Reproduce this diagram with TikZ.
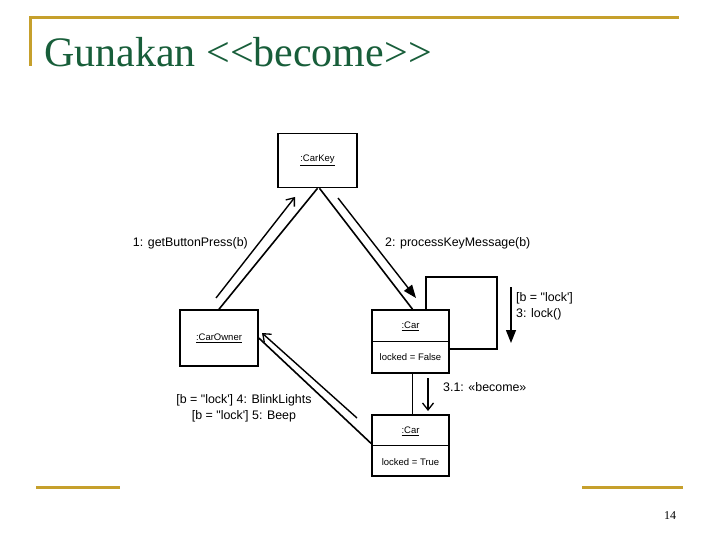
\documentclass[tikz,border=0pt]{standalone}
\usepackage{fontspec}
\setmainfont{Liberation Serif}
\newfontfamily\diagfont{Liberation Sans}
\usetikzlibrary{arrows.meta}
\definecolor{gold}{RGB}{198,160,44}
\definecolor{titlegreen}{RGB}{24,94,58}
\tikzset{
  objbox/.style={draw, line width=1.6pt, inner sep=0pt, font=\diagfont\fontsize{9.5}{11}\selectfont},
  link/.style={line width=1.6pt},
  msgopen/.style={line width=1.4pt, -{Straight Barb[length=7pt,width=11pt,line width=1.3pt]}},
  msgfill/.style={line width=1.4pt, -{Triangle[length=13pt,width=10pt]}},
  msglabel/.style={font=\diagfont\fontsize{12.4}{16}\selectfont, inner sep=0pt},
  small/.style={font=\diagfont\fontsize{9.5}{11}\selectfont, inner sep=0pt},
  goldline/.style={gold, line width=3pt}
}
\begin{document}
\begin{tikzpicture}[x=1pt,y=-1pt]
\useasboundingbox (0,0) rectangle (720,540);
% slide frame
\draw[goldline] (30,18) -- (679,18);
\draw[goldline] (30,16.5) -- (30,66);
\draw[goldline] (36,487) -- (120,487);
\draw[goldline] (582,487) -- (683,487);
\node[anchor=base west, text=titlegreen, font=\fontsize{42}{46}\selectfont, inner sep=0pt] (title) at (44,67) {Gunakan {<}{<}become{>}{>}};
\node[font=\fontsize{12}{14}\selectfont, inner sep=0pt] (pnum) at (670,516) {14};
% objects
\node[objbox, minimum width=79pt, minimum height=54pt] (carkey) at (317.5,160.5) {\underline{:CarKey}};
\node[objbox, minimum width=78pt, minimum height=56pt] (carowner) at (219,338) {\underline{:CarOwner}};
\node[objbox, minimum width=77pt, minimum height=63pt] (car1) at (410.5,341.5) {};
\node[objbox, minimum width=77pt, minimum height=61pt] (car2) at (410.5,445.5) {};
\draw[link] (car1.west) -- (car1.east);
\draw[link] (car2.west) -- (car2.east);
\node[small] (car1name) at (410.5,326) {\underline{:Car}};
\node[small] (car1attr) at (410.5,357) {locked = False};
\node[small] (car2name) at (410.5,431) {\underline{:Car}};
\node[small] (car2attr) at (410.5,462) {locked = True};
% links
\draw[link] (carkey.south) -- (carowner.north);
\draw[link] ([xshift=2pt]carkey.south) -- ([xshift=2pt]car1.north);
\draw[link] ([xshift=2pt]car1.south) -- ([xshift=2pt]car2.north);
\draw[link] (carowner.east) -- ([yshift=2pt]car2.west);
\coordinate (loopc) at (497,277);
\draw[link] ([xshift=15.5pt]car1.north) |- (loopc) |- ([yshift=-7.5pt]car1.east);
% messages
\coordinate (m1s) at (216,298);
\coordinate (m1e) at (295,197);
\draw[msgopen] (m1s) -- (m1e);
\node[msglabel, anchor=east] (m1l) at (248,243) {1: getButtonPress(b)};
\coordinate (m2s) at (338,198);
\coordinate (m2e) at (416,298);
\draw[msgfill] (m2s) -- (m2e);
\node[msglabel, anchor=west] (m2l) at (385,243) {2: processKeyMessage(b)};
\coordinate (m3s) at (511,287);
\coordinate (m3e) at (511,343);
\draw[msgfill] (m3s) -- (m3e);
\node[msglabel, anchor=north west, align=left] (m3l) at (516,292) {[b = "lock']\\3: lock()};
\coordinate (m31s) at (428,378);
\coordinate (m31e) at (428,411);
\draw[msgopen] (m31s) -- (m31e);
\node[msglabel, anchor=west] (m31l) at (443,387) {3.1: «become»};
\coordinate (m4s) at (357,418);
\coordinate (m4e) at (262,333);
\draw[msgopen] (m4s) -- (m4e);
\node[msglabel, align=center] (m4l) at (244,408) {[b = "lock'] 4: BlinkLights\\{}[b = "lock'] 5: Beep};
\end{tikzpicture}
\end{document}
